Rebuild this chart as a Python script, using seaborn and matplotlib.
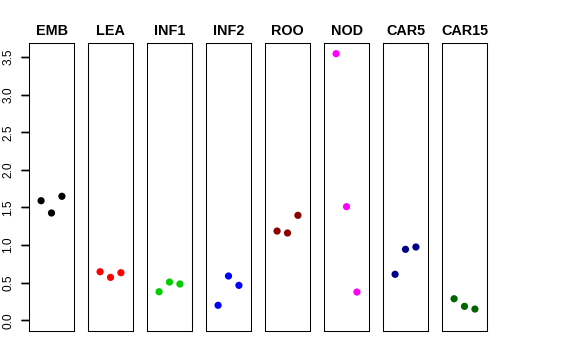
import matplotlib
matplotlib.use("Agg")
import matplotlib.pyplot as plt
import seaborn as sns
import pandas as pd
import numpy as np

sns.set_style("ticks")
plt.rcParams['font.family'] = ['Liberation Sans', 'DejaVu Sans']
plt.rcParams['text.color'] = 'black'
plt.rcParams['ytick.color'] = 'black'
plt.rcParams['axes.edgecolor'] = 'black'
plt.rcParams['ytick.left'] = True
plt.rcParams['ytick.major.size'] = 5.5
plt.rcParams['ytick.major.width'] = 1.0
plt.rcParams['ytick.direction'] = 'out'

groups = ["EMB", "LEA", "INF1", "INF2", "ROO", "NOD", "CAR5", "CAR15"]
colors = ["#000000", "#FF0000", "#00CD00", "#0000FF", "#8B0000", "#FF00FF", "#00008B", "#006400"]
replicate = [1, 2, 3]
EMB = [1.59, 1.427, 1.649]
LEA = [0.646, 0.571, 0.633]
INF1 = [0.38, 0.509, 0.483]
INF2 = [0.20, 0.589, 0.465]
ROO = [1.187, 1.161, 1.396]
NOD = [3.545, 1.511, 0.376]
CAR5 = [0.612, 0.944, 0.975]
CAR15 = [0.287, 0.186, 0.150]
values = [EMB, LEA, INF1, INF2, ROO, NOD, CAR5, CAR15]
yticks = [0.0, 0.5, 1.0, 1.5, 2.0, 2.5, 3.0, 3.5]
ytick_labels = ["0.0", "0.5", "1.0", "1.5", "2.0", "2.5", "3.0", "3.5"]

df = pd.DataFrame({
    "group": np.repeat(groups, len(replicate)),
    "rep": replicate * len(groups),
    "value": np.concatenate(values),
})

fig, axes = plt.subplots(1, len(groups), figsize=(5.76, 3.6), dpi=100)
fig.subplots_adjust(left=29/576, right=487/576, top=1-43/360, bottom=1-331/360, wspace=14/45)

ymax = df["value"].max()
pad = 0.04 * ymax
ylim = (0 - pad, ymax + pad)

for ax, g, c in zip(axes, groups, colors):
    sub = df[df["group"] == g]
    sns.scatterplot(data=sub, x="rep", y="value", color=c, s=27, edgecolor="none", ax=ax, legend=False)

for i, (ax, g) in enumerate(zip(axes, groups)):
    ax.set_xlim(-0.16, 4.16)
    ax.set_ylim(*ylim)
    ax.set_xticks([])
    ax.set_xlabel("")
    ax.set_ylabel("")
    ax.set_title(g, fontsize=10.4, fontweight="bold", pad=5.5, color="black")
    for sp in ax.spines.values():
        sp.set_visible(True)
        sp.set_color("black")
        sp.set_linewidth(0.75)
    if i == 0:
        ax.set_yticks(yticks)
        ax.set_yticklabels(ytick_labels, rotation=90, va="center", fontsize=8.6)
        ax.tick_params(axis="y", left=True, direction="out", length=5.5, width=1.0,
                       pad=5, color="black", labelcolor="black")
        ax.hlines(yticks, -0.17, 0, transform=ax.get_yaxis_transform(),
                  colors="black", linewidth=1.0, clip_on=False, zorder=10)
    else:
        ax.set_yticks([])

fig.savefig("out.png", dpi=100)
